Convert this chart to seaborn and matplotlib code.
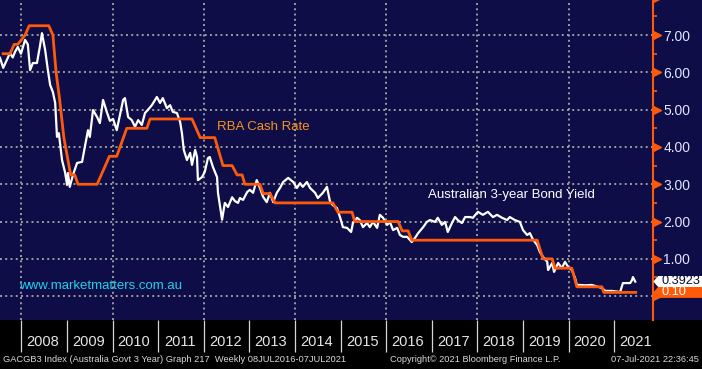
import numpy as np
import pandas as pd
import matplotlib
matplotlib.use("Agg")
import matplotlib.pyplot as plt
import seaborn as sns
from matplotlib import font_manager
from matplotlib.path import Path
from matplotlib.patches import Rectangle
import matplotlib.transforms as mtransforms

# ---------------- data (decimal years as placed on the chart) ----------------
bond_t = [2007.53, 2007.60, 2007.68, 2007.75, 2007.81, 2007.86, 2007.92, 2007.99, 2008.08, 2008.14,
          2008.19, 2008.25, 2008.34, 2008.41, 2008.45, 2008.52, 2008.58, 2008.63, 2008.69, 2008.74,
          2008.78, 2008.82, 2008.89, 2008.96, 2009.00, 2009.02, 2009.06, 2009.13, 2009.22, 2009.33,
          2009.39, 2009.46, 2009.50, 2009.57, 2009.66, 2009.72, 2009.79, 2009.88, 2009.94, 2010.01,
          2010.09, 2010.16, 2010.23, 2010.27, 2010.34, 2010.42, 2010.49, 2010.56, 2010.64, 2010.71,
          2010.77, 2010.86, 2010.97, 2011.04, 2011.10, 2011.19, 2011.26, 2011.32, 2011.41, 2011.48,
          2011.52, 2011.56, 2011.63, 2011.70, 2011.74, 2011.81, 2011.85, 2011.87, 2011.96, 2012.02,
          2012.09, 2012.13, 2012.20, 2012.29, 2012.31, 2012.40, 2012.46, 2012.53, 2012.62, 2012.68,
          2012.75, 2012.79, 2012.86, 2012.95, 2013.01, 2013.08, 2013.16, 2013.23, 2013.30, 2013.38,
          2013.45, 2013.52, 2013.60, 2013.67, 2013.74, 2013.85, 2013.96, 2014.04, 2014.11, 2014.17,
          2014.26, 2014.33, 2014.44, 2014.50, 2014.61, 2014.70, 2014.77, 2014.83, 2014.92, 2014.99,
          2015.05, 2015.14, 2015.23, 2015.27, 2015.36, 2015.42, 2015.49, 2015.58, 2015.64, 2015.71,
          2015.80, 2015.86, 2015.93, 2016.02, 2016.08, 2016.15, 2016.24, 2016.30, 2016.37, 2016.46,
          2016.56, 2016.63, 2016.70, 2016.81, 2016.89, 2016.96, 2017.07, 2017.13, 2017.22, 2017.29,
          2017.35, 2017.44, 2017.51, 2017.57, 2017.66, 2017.73, 2017.84, 2017.90, 2018.01, 2018.12,
          2018.23, 2018.34, 2018.43, 2018.54, 2018.65, 2018.71, 2018.82, 2018.93, 2019.00, 2019.09,
          2019.15, 2019.22, 2019.31, 2019.37, 2019.44, 2019.53, 2019.55, 2019.64, 2019.68, 2019.77,
          2019.85, 2019.92, 2019.99, 2020.07, 2020.14, 2020.18, 2020.25, 2020.36, 2020.51, 2020.64,
          2020.73, 2020.80, 2020.95, 2021.13, 2021.19, 2021.28, 2021.35, 2021.39, 2021.41, 2021.46]
bond_v = [6.39, 6.12, 6.33, 6.52, 6.40, 6.55, 6.68, 6.50, 6.87, 6.75,
          6.06, 6.25, 6.25, 6.73, 7.05, 6.60, 6.06, 5.66, 5.47, 5.18,
          4.27, 4.37, 3.65, 3.30, 2.98, 3.30, 2.93, 3.25, 3.57, 3.60,
          4.00, 4.45, 4.27, 4.99, 4.80, 4.64, 5.26, 4.91, 4.70, 4.75,
          4.45, 4.85, 5.26, 5.31, 4.80, 4.72, 4.54, 4.72, 4.59, 4.91,
          4.99, 5.12, 5.34, 5.18, 5.31, 5.04, 5.12, 4.94, 4.91, 4.67,
          4.37, 3.92, 3.65, 3.84, 3.52, 3.92, 3.73, 3.11, 3.19, 3.33,
          3.70, 3.73, 3.46, 3.19, 2.77, 2.05, 2.50, 2.39, 2.65, 2.55,
          2.50, 2.63, 2.58, 2.79, 2.85, 2.77, 3.11, 2.90, 2.66, 2.52,
          2.77, 2.52, 2.77, 2.90, 3.06, 3.17, 3.06, 2.90, 3.03, 2.93,
          3.06, 2.90, 2.77, 2.63, 2.77, 2.93, 2.52, 2.44, 2.36, 2.10,
          1.85, 1.83, 1.72, 1.96, 2.10, 2.04, 1.85, 1.96, 1.85, 1.99,
          1.83, 2.18, 2.10, 1.91, 1.99, 1.77, 1.83, 1.64, 1.59, 1.59,
          1.45, 1.56, 1.69, 1.85, 1.99, 2.04, 1.99, 2.10, 1.91, 1.99,
          1.72, 1.96, 2.12, 2.04, 1.96, 2.12, 2.12, 2.10, 2.26, 2.18,
          2.26, 2.12, 2.18, 2.10, 2.04, 2.12, 2.04, 1.99, 1.77, 1.64,
          1.69, 1.51, 1.37, 1.18, 1.05, 0.92, 0.70, 0.89, 0.65, 0.89,
          0.75, 0.92, 0.78, 0.70, 0.49, 0.30, 0.30, 0.29, 0.30, 0.25,
          0.22, 0.14, 0.14, 0.11, 0.35, 0.35, 0.35, 0.43, 0.51, 0.39]

cash_t = [2007.60, 2007.75, 2007.84, 2007.92, 2008.08, 2008.17, 2008.60, 2008.69, 2008.76, 2008.84,
          2008.93, 2009.08, 2009.17, 2009.24, 2009.66, 2009.75, 2009.84, 2009.93, 2010.09, 2010.31,
          2010.75, 2010.82, 2011.74, 2011.92, 2012.24, 2012.42, 2012.62, 2012.73, 2012.84, 2012.90,
          2013.23, 2013.30, 2013.45, 2013.56, 2014.83, 2014.94, 2015.25, 2015.31, 2016.26, 2016.35,
          2016.48, 2016.56, 2019.31, 2019.44, 2019.64, 2019.70, 2020.07, 2020.18, 2020.73, 2020.77,
          2021.47]
cash_v = [6.50, 6.50, 6.75, 6.75, 7.00, 7.25, 7.25, 7.00, 6.00, 5.25,
          4.25, 3.25, 3.25, 3.00, 3.00, 3.25, 3.50, 3.75, 3.75, 4.50,
          4.50, 4.75, 4.75, 4.25, 4.25, 3.50, 3.50, 3.25, 3.25, 3.00,
          3.00, 2.75, 2.75, 2.50, 2.50, 2.25, 2.25, 2.00, 2.00, 1.75,
          1.75, 1.50, 1.50, 1.00, 1.00, 0.75, 0.75, 0.25, 0.25, 0.10,
          0.10]

years = list(range(2008, 2022))
grid_years = list(range(2008, 2022, 2))
yticks = [0, 1, 2, 3, 4, 5, 6, 7]
ytick_labels = ["", "1.00", "2.00", "3.00", "4.00", "5.00", "6.00", "7.00"]
last_bond = 0.3923
last_cash = 0.10
last_bond_label = "0.3923"
last_cash_label = "0.10"
footer_left = "GACGB3 Index (Australia Govt 3 Year) Graph 217  Weekly 08JUL2016-07JUL2021"
footer_mid = "Copyright\u00a9 2021 Bloomberg Finance L.P."
footer_right = "07-Jul-2021 22:36:45"

# ---------------- style ----------------
names = {f.name for f in font_manager.fontManager.ttflist}
NARROW = 'Liberation Sans Narrow' if 'Liberation Sans Narrow' in names else 'Liberation Sans'
SANS = 'Liberation Sans'
NAVY = '#0e0d48'
ORANGE = '#ff5a0a'
GRID = '#9c9c9c'
TICKTXT = '#dde6ff'

W, H = 702, 369
fig = plt.figure(figsize=(W / 100, H / 100), dpi=100, facecolor='black')
bottom = 1 - 320 / H
ax = fig.add_axes([0, bottom, 653 / W, 1 - bottom])
fig.patches.append(Rectangle((0, bottom), 1, 1 - bottom, transform=fig.transFigure,
                             facecolor=NAVY, edgecolor='none', zorder=-10))
ax.set_facecolor(NAVY)

# lines
sns.lineplot(x=bond_t, y=bond_v, ax=ax, color='white', linewidth=1.6,
             estimator=None, sort=False, zorder=3)
sns.lineplot(x=cash_t, y=cash_v, ax=ax, color=ORANGE, linewidth=2.0,
             estimator=None, sort=False, zorder=4)

ax.set_xlim(2007.53, 2021.85)
ax.set_ylim(-0.64, 7.94)
ax.set_xlabel('')
ax.set_ylabel('')

# grid
dots = (0, (1, 1.7))
ax.set_yticks(yticks)
ax.grid(axis='y', color=GRID, linestyle=dots, linewidth=1.4)
ax.grid(axis='x', visible=False)
for gy in grid_years:
    ax.axvline(gy, color=GRID, linestyle=dots, linewidth=1.4, zorder=1)
ax.set_axisbelow(True)

# spines
for s in ['top', 'left', 'bottom']:
    ax.spines[s].set_visible(False)
ax.spines['right'].set_color(ORANGE)
ax.spines['right'].set_linewidth(1.5)

# right axis
ax.yaxis.tick_right()
ax.set_yticklabels(ytick_labels)
ax.set_yticks(np.arange(0.5, 8.0, 1.0), minor=True)
ax.tick_params(axis='y', which='major', length=0, pad=7.5, labelcolor=TICKTXT,
               labelsize=10, right=True, left=False)
ax.tick_params(axis='y', which='minor', length=3, width=1.2, color=ORANGE,
               direction='out', right=True, left=False)
for lbl in ax.get_yticklabels():
    lbl.set_fontfamily(NARROW)

tri_tr = mtransforms.offset_copy(ax.get_yaxis_transform(), fig=fig, x=3.5, y=0, units='dots')
ax.plot([1.0] * (len(yticks) + 1), yticks + [8], transform=tri_tr, marker='>', ms=6,
        color=ORANGE, ls='none', clip_on=False, zorder=5)

# x axis (years)
ax.set_xticks([y + 0.47 for y in years])
ax.set_xticklabels([str(y) for y in years])
ax.set_xticks(years, minor=True)
ax.tick_params(axis='x', which='major', length=0, pad=11, labelcolor='#e6e6e6',
               labelsize=10.5, bottom=True)
ax.tick_params(axis='x', which='minor', length=23, width=0.9, color='#d6d6d6',
               direction='out', bottom=True)
for lbl in ax.get_xticklabels():
    lbl.set_fontfamily(NARROW)

# annotations
ax.text(2012.29, 4.54, 'RBA Cash Rate', color='#f7931e', fontsize=9.5,
        family=SANS, ha='left', va='center', zorder=6)
ax.text(2016.91, 2.71, 'Australian 3-year Bond Yield', color='white', fontsize=9.5,
        family=SANS, ha='left', va='center', zorder=6)
ax.text(2007.95, 0.27, 'www.marketmatters.com.au', color='#1fd2ea', fontsize=9.5,
        family=SANS, ha='left', va='center', zorder=6)


def pent_box(x0, y0, width, height, mutation_size):
    px = 0.22 * mutation_size
    py = -0.04 * mutation_size
    x0 -= px
    y0 -= py
    w = width + 2 * px
    h = height + 2 * py
    tip = h * 0.45
    verts = [(x0, y0), (x0 + w + 20, y0), (x0 + w + 20, y0 + h), (x0, y0 + h),
             (x0 - tip, y0 + h / 2), (x0, y0)]
    return Path(verts, closed=True)


box_tr = mtransforms.offset_copy(ax.get_yaxis_transform(), fig=fig, x=8, y=0, units='dots')
ax.text(1.0, last_cash, last_cash_label, transform=box_tr, ha='left', va='center',
        fontsize=9.2, family=NARROW, color='white', clip_on=False, zorder=20,
        bbox=dict(boxstyle=pent_box, facecolor=ORANGE, edgecolor='none'))
ax.text(1.0, last_bond, last_bond_label, transform=box_tr, ha='left', va='center',
        fontsize=9.2, family=NARROW, color='#0a0a30', clip_on=False, zorder=21,
        bbox=dict(boxstyle=pent_box, facecolor='white', edgecolor='none'))

# footer
fy = 1 - 360 / H
fig.text(3 / W, fy, footer_left, color='#d8d8d8', fontsize=6.7, family=NARROW, va='center')
fig.text(390 / W, fy, footer_mid, color='#d8d8d8', fontsize=6.7, family=NARROW, va='center')
fig.text(699 / W, fy, footer_right, color='#d8d8d8', fontsize=6.7, family=NARROW,
         va='center', ha='right')

fig.savefig('out.png', dpi=100, facecolor='black')
